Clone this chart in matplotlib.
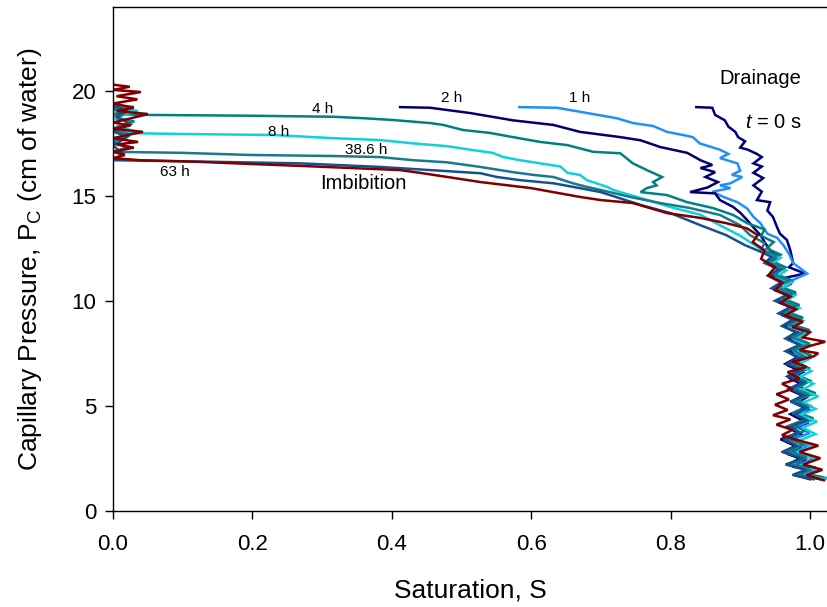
import matplotlib
matplotlib.use("Agg")
import matplotlib.pyplot as plt

plt.rcParams['font.family'] = ['Liberation Sans', 'DejaVu Sans']
plt.rcParams['mathtext.fontset'] = 'custom'
plt.rcParams['mathtext.rm'] = 'Liberation Sans'
plt.rcParams['mathtext.it'] = 'Liberation Sans:italic'

# ---------------- data (saturation S, capillary pressure Pc) ----------------
s_t0 = [1.015, 0.985, 1.005, 0.975, 0.995, 0.968, 0.985, 0.965, 0.99, 0.975, 0.998, 0.978,
        1.0, 0.98, 0.995, 0.975, 0.99, 0.972, 0.99, 0.97, 0.988, 0.972, 0.993, 0.975,
        0.99, 0.968, 0.985, 0.962, 0.98, 0.958, 0.975, 0.955, 0.972, 0.965, 0.993, 0.97,
        0.976, 0.972, 0.967, 0.957, 0.953, 0.947, 0.939, 0.943, 0.924, 0.931, 0.919, 0.933,
        0.919, 0.931, 0.919, 0.931, 0.924, 0.911, 0.900, 0.907, 0.897, 0.893, 0.883, 0.878,
        0.864, 0.860, 0.837]
pc_t0 = [1.5, 1.7, 1.9, 2.1, 2.4, 2.7, 3.0, 3.3, 3.6, 3.9, 4.2, 4.5,
         4.8, 5.1, 5.4, 5.7, 6.0, 6.3, 6.6, 6.9, 7.2, 7.5, 7.8, 8.1,
         8.4, 8.7, 9.0, 9.3, 9.6, 9.9, 10.2, 10.5, 10.8, 11.1, 11.3, 11.6,
         11.8, 12.4, 12.9, 13.2, 13.5, 14.0, 14.3, 14.7, 14.8, 15.2, 15.5, 15.85,
         16.1, 16.4, 16.55, 16.85, 17.0, 17.2, 17.3, 17.6, 17.8, 18.05, 18.3, 18.6,
         18.86, 19.2, 19.23]

s_1h = [1.025, 0.99, 1.012, 0.985, 1.005, 0.978, 0.998, 0.975, 1.0, 0.98, 1.002, 0.985,
        0.998, 0.978, 0.996, 0.98, 0.995, 0.975, 0.992, 0.975, 0.99, 0.976, 0.995, 0.972,
        0.99, 0.97, 0.985, 0.965, 0.982, 0.96, 0.978, 0.96, 0.975, 0.976, 0.996, 0.976,
        0.969, 0.962, 0.953, 0.939, 0.929, 0.919, 0.910, 0.896, 0.876, 0.860, 0.886, 0.871,
        0.886, 0.903, 0.888, 0.900, 0.896, 0.871, 0.883, 0.871, 0.842, 0.832, 0.818, 0.795,
        0.775, 0.746, 0.723, 0.680, 0.637, 0.583]
pc_1h = [1.55, 1.75, 2.0, 2.2, 2.5, 2.8, 3.1, 3.4, 3.7, 4.0, 4.3, 4.6,
         4.9, 5.2, 5.5, 5.8, 6.1, 6.4, 6.7, 7.0, 7.3, 7.6, 7.9, 8.2,
         8.5, 8.8, 9.1, 9.4, 9.7, 10.0, 10.3, 10.6, 10.9, 11.0, 11.3, 11.8,
         12.3, 12.65, 13.0, 13.2, 13.7, 14.0, 14.4, 14.7, 14.95, 15.2, 15.37, 15.5,
         15.6, 15.9, 16.0, 16.2, 16.55, 16.8, 17.0, 17.2, 17.5, 17.8, 17.9, 18.05,
         18.33, 18.47, 18.7, 18.95, 19.2, 19.23]

s_2h = [1.0, 0.978, 0.998, 0.97, 0.985, 0.962, 0.98, 0.958, 0.982, 0.968, 0.99, 0.972,
        0.992, 0.975, 0.99, 0.97, 0.988, 0.968, 0.985, 0.965, 0.982, 0.97, 0.988, 0.968,
        0.982, 0.962, 0.978, 0.958, 0.975, 0.952, 0.97, 0.948, 0.965, 0.945, 0.96, 0.942,
        0.955, 0.943, 0.936, 0.929, 0.919, 0.910, 0.900, 0.890, 0.871, 0.864, 0.828, 0.853,
        0.868, 0.850, 0.864, 0.843, 0.860, 0.843, 0.824, 0.785, 0.757, 0.728, 0.670, 0.632,
        0.574, 0.512, 0.455, 0.412]
pc_2h = [1.5, 1.7, 1.95, 2.2, 2.5, 2.8, 3.1, 3.4, 3.7, 4.0, 4.3, 4.6,
         4.9, 5.2, 5.5, 5.8, 6.1, 6.4, 6.7, 7.0, 7.3, 7.6, 7.9, 8.2,
         8.5, 8.8, 9.1, 9.4, 9.7, 10.0, 10.3, 10.6, 10.9, 11.2, 11.5, 11.8,
         12.1, 12.4, 12.75, 13.13, 13.5, 13.85, 14.2, 14.47, 14.8, 15.12, 15.18, 15.4,
         15.66, 15.9, 16.13, 16.33, 16.47, 16.7, 17.05, 17.33, 17.65, 17.8, 18.05, 18.38,
         18.6, 18.95, 19.2, 19.23]

s_4h = [1.018, 0.988, 1.008, 0.98, 1.0, 0.975, 0.995, 0.972, 0.992, 0.978, 1.005, 0.98,
        1.0, 0.982, 1.008, 0.985, 1.0, 0.978, 0.998, 0.98, 1.002, 0.978, 0.996, 0.975,
        1.0, 0.972, 0.99, 0.965, 0.985, 0.962, 0.98, 0.955, 0.972, 0.95, 0.965, 0.945,
        0.958, 0.938, 0.948, 0.93, 0.935, 0.910, 0.890, 0.861, 0.824, 0.795, 0.757, 0.766,
        0.780, 0.775, 0.788, 0.766, 0.746, 0.728, 0.689, 0.652, 0.613, 0.574, 0.541, 0.502,
        0.474, 0.455, 0.400, 0.360, 0.316, 0.197, 0.040, 0.0, 0.02, 0.0, 0.015, 0.0]
pc_4h = [1.6, 1.8, 2.05, 2.3, 2.6, 2.9, 3.2, 3.5, 3.8, 4.1, 4.4, 4.7,
         5.0, 5.3, 5.6, 5.9, 6.2, 6.5, 6.8, 7.1, 7.4, 7.7, 8.0, 8.3,
         8.6, 8.9, 9.2, 9.5, 9.8, 10.1, 10.4, 10.7, 11.0, 11.3, 11.6, 11.9,
         12.2, 12.5, 12.8, 13.1, 13.4, 13.7, 14.09, 14.42, 14.7, 15.04, 15.18, 15.37,
         15.5, 15.66, 15.9, 16.23, 16.55, 17.03, 17.1, 17.42, 17.57, 17.8, 18.0, 18.14,
         18.38, 18.47, 18.62, 18.7, 18.77, 18.82, 18.86, 18.9, 19.0, 19.1, 19.2, 19.3]

s_8h = [1.022, 0.992, 1.015, 0.985, 1.01, 0.98, 1.005, 0.985, 1.008, 0.99, 1.01, 0.985,
        1.008, 0.99, 1.012, 0.988, 1.005, 0.985, 1.002, 0.982, 1.0, 0.98, 0.998, 0.978,
        0.995, 0.972, 0.99, 0.968, 0.985, 0.962, 0.978, 0.958, 0.972, 0.952, 0.966, 0.945,
        0.958, 0.935, 0.921, 0.900, 0.871, 0.843, 0.800, 0.757, 0.718, 0.709, 0.680, 0.670,
        0.652, 0.642, 0.613, 0.584, 0.560, 0.545, 0.517, 0.479, 0.431, 0.383, 0.316, 0.230,
        0.100, 0.0, 0.030, 0.005, 0.031, 0.0, 0.020, 0.036, 0.010, 0.030, 0.0]
pc_8h = [1.5, 1.7, 1.9, 2.15, 2.45, 2.75, 3.05, 3.35, 3.65, 3.95, 4.25, 4.55,
         4.85, 5.15, 5.45, 5.75, 6.05, 6.35, 6.65, 6.95, 7.25, 7.55, 7.85, 8.15,
         8.45, 8.75, 9.05, 9.35, 9.65, 9.95, 10.25, 10.55, 10.85, 11.15, 11.45, 11.75,
         12.05, 12.35, 12.65, 13.1, 13.6, 14.1, 14.47, 14.9, 15.28, 15.43, 15.75, 16.0,
         16.1, 16.4, 16.55, 16.7, 16.85, 17.05, 17.18, 17.37, 17.5, 17.66, 17.75, 17.9,
         17.95, 18.0, 18.1, 18.3, 18.55, 18.7, 18.9, 19.05, 19.15, 19.25, 19.3]

s_38h = [1.01, 0.98, 1.0, 0.972, 0.995, 0.968, 0.99, 0.965, 0.985, 0.97, 0.995, 0.975,
         0.998, 0.978, 0.998, 0.975, 0.995, 0.972, 0.99, 0.972, 0.992, 0.975, 1.0, 0.975,
         0.992, 0.97, 0.988, 0.962, 0.98, 0.958, 0.975, 0.952, 0.97, 0.948, 0.962, 0.94,
         0.952, 0.93, 0.935, 0.914, 0.900, 0.871, 0.828, 0.785, 0.742, 0.700, 0.680, 0.660,
         0.632, 0.603, 0.574, 0.527, 0.479, 0.431, 0.383, 0.316, 0.197, 0.100, 0.0,
         0.020, 0.0, 0.025, 0.0, 0.030, 0.005, 0.020, 0.0]
pc_38h = [1.55, 1.75, 2.0, 2.25, 2.55, 2.85, 3.15, 3.45, 3.75, 4.05, 4.35, 4.65,
          4.95, 5.25, 5.55, 5.85, 6.15, 6.45, 6.75, 7.05, 7.35, 7.65, 7.95, 8.25,
          8.55, 8.85, 9.15, 9.45, 9.75, 10.05, 10.35, 10.65, 10.95, 11.25, 11.55, 11.85,
          12.15, 12.45, 12.75, 13.13, 13.6, 14.09, 14.42, 14.66, 14.95, 15.28, 15.43, 15.6,
          15.9, 16.0, 16.13, 16.38, 16.6, 16.7, 16.85, 16.9, 16.95, 17.05, 17.1,
          17.3, 17.6, 17.9, 18.2, 18.55, 18.7, 19.0, 19.2]

s_blue = [1.005, 0.975, 0.995, 0.965, 0.99, 0.96, 0.982, 0.962, 0.985, 0.972, 0.995, 0.978,
          0.995, 0.972, 0.992, 0.972, 0.99, 0.97, 0.988, 0.968, 0.985, 0.965, 0.985, 0.965,
          0.98, 0.96, 0.975, 0.955, 0.972, 0.95, 0.968, 0.945, 0.96, 0.94, 0.955, 0.935,
          0.945, 0.925, 0.907, 0.880, 0.843, 0.800, 0.757, 0.700, 0.670, 0.632, 0.584, 0.551,
          0.527, 0.455, 0.383, 0.268, 0.100, 0.0, 0.015, 0.0, 0.020, 0.0, 0.025, 0.005,
          0.020, 0.0]
pc_blue = [1.5, 1.7, 1.95, 2.2, 2.5, 2.8, 3.1, 3.4, 3.7, 4.0, 4.3, 4.6,
           4.9, 5.2, 5.5, 5.8, 6.1, 6.4, 6.7, 7.0, 7.3, 7.6, 7.9, 8.2,
           8.5, 8.8, 9.1, 9.4, 9.7, 10.0, 10.3, 10.6, 10.9, 11.2, 11.5, 11.8,
           12.1, 12.4, 12.65, 13.13, 13.6, 14.18, 14.57, 15.18, 15.37, 15.6, 15.75, 15.9,
           16.08, 16.23, 16.38, 16.55, 16.65, 16.7, 17.0, 17.4, 17.8, 18.1, 18.4, 18.8,
           19.1, 19.3]

s_63h = [1.02, 0.995, 1.018, 0.99, 1.015, 0.985, 1.012, 0.978, 0.96, 0.975, 0.952, 0.972,
         0.947, 0.968, 0.95, 0.97, 0.952, 0.975, 0.96, 0.985, 0.968, 0.995, 0.975, 1.005,
         1.012, 0.985, 1.0, 1.022, 0.99, 1.0, 0.975, 0.99, 0.965, 0.98, 0.958, 0.972,
         0.95, 0.96, 0.94, 0.95, 0.93, 0.935, 0.918, 0.925, 0.910, 0.880, 0.843, 0.795,
         0.746, 0.700, 0.670, 0.600, 0.527, 0.480, 0.440, 0.412, 0.340, 0.268, 0.197, 0.125,
         0.039, 0.0, 0.017, 0.0, 0.030, 0.005, 0.036, 0.0, 0.020, 0.043, 0.0, 0.025,
         0.0, 0.020, 0.050, 0.005, 0.030, 0.0, 0.035, 0.005, 0.040, 0.0, 0.024, 0.0]
pc_63h = [1.45, 1.7, 1.95, 2.2, 2.5, 2.8, 3.1, 3.4, 3.6, 3.85, 4.1, 4.35,
          4.55, 4.8, 5.05, 5.3, 5.55, 5.8, 6.05, 6.3, 6.6, 6.85, 7.1, 7.35,
          7.5, 7.65, 7.85, 8.05, 8.25, 8.5, 8.75, 9.0, 9.3, 9.6, 9.9, 10.2,
          10.5, 10.85, 11.2, 11.6, 12.0, 12.4, 12.8, 13.13, 13.45, 13.7, 13.95, 14.18,
          14.66, 14.8, 14.95, 15.37, 15.66, 15.9, 16.1, 16.23, 16.33, 16.43, 16.52, 16.62,
          16.7, 16.8, 16.95, 17.1, 17.3, 17.45, 17.57, 17.75, 17.9, 18.05, 18.2, 18.35,
          18.5, 18.65, 18.9, 19.05, 19.2, 19.4, 19.6, 19.75, 19.95, 20.05, 20.2, 20.3]

series = [
    (s_t0, pc_t0, '#000080'),
    (s_1h, pc_1h, '#2090F8'),
    (s_2h, pc_2h, '#00006E'),
    (s_4h, pc_4h, '#008080'),
    (s_8h, pc_8h, '#10D0DC'),
    (s_38h, pc_38h, '#1A7A8C'),
    (s_blue, pc_blue, '#14528F'),
    (s_63h, pc_63h, '#800000'),
]

labels = [("4 h", 0.301, 19.15, 11), ("8 h", 0.237, 18.05, 11),
          ("38.6 h", 0.364, 17.2, 11), ("63 h", 0.089, 16.13, 11),
          ("2 h", 0.486, 19.66, 11), ("1 h", 0.67, 19.66, 11),
          ("Imbibition", 0.359, 15.6, 14.5), ("Drainage", 0.929, 20.57, 14.5),
          (r"$\mathit{t}$ = 0 s", 0.948, 18.5, 14.5)]

# ---------------- figure ----------------
W, H = 828, 607
fig = plt.figure(figsize=(W / 100, H / 100), dpi=100)
ax = fig.add_axes([113 / W, (H - 510.7) / H, 1 - 113 / W, (510.7 - 7) / H])

for s, p, c in series:
    ax.plot(s, p, color=c, lw=1.8, solid_joinstyle='miter')

for txt, x, y, fs in labels:
    ax.text(x, y, txt, fontsize=fs, ha='center', va='center')

ax.set_xlim(0, 1.026)
ax.set_ylim(0, 24)
ax.set_xticks([0.0, 0.2, 0.4, 0.6, 0.8, 1.0])
ax.set_xticklabels(['0.0', '0.2', '0.4', '0.6', '0.8', '1.0'])
ax.set_yticks([0, 5, 10, 15, 20])
ax.spines['right'].set_visible(False)
for sp in ax.spines.values():
    sp.set_linewidth(1.0)
ax.tick_params(direction='out', length=6, width=1.0, labelsize=16, pad=6)
ax.tick_params(axis='x', pad=11)

ax.set_xlabel('Saturation, S', fontsize=19)
ax.set_ylabel(r'Capillary Pressure, P$_\mathregular{C}$ (cm of water)', fontsize=19)
ax.yaxis.set_label_coords(-0.096, 0.5)
ax.xaxis.set_label_coords(0.5, -0.135)
ax.xaxis.label.set_va('top')

fig.savefig('out.png', dpi=100)
